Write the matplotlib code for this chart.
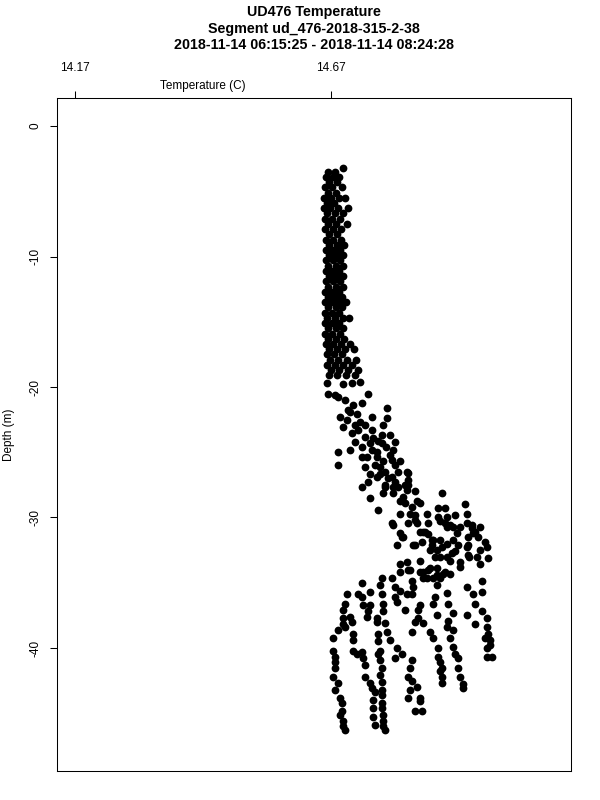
import numpy as np
import matplotlib
matplotlib.use('Agg')
from matplotlib import pyplot as plt

plt.rcParams['font.family'] = ['Liberation Sans', 'DejaVu Sans']

title_lines = ["UD476 Temperature",
               "Segment ud_476-2018-315-2-38",
               "2018-11-14 06:15:25 - 2018-11-14 08:24:28"]
temp_ticks = [14.17, 14.67]
temp_tick_labels = ["14.17", "14.67"]
depth_ticks = [0, -10, -20, -30, -40]
temp_lim = (14.135, 15.139)
depth_lim = (-49.43, 2.15)

# mixed layer: (depth, [temps at that depth])
surface_rows = [
    (-3.2, [14.693]),
    (-3.5, [14.664, 14.678]),
    (-3.9, [14.660, 14.674, 14.686]),
    (-4.3, [14.666, 14.682]),
    (-4.7, [14.658, 14.672, 14.691]),
    (-5.1, [14.664, 14.680]),
    (-5.5, [14.656, 14.670, 14.686, 14.697]),
    (-5.9, [14.662, 14.676]),
    (-6.3, [14.656, 14.668, 14.684, 14.703]),
    (-6.7, [14.662, 14.678, 14.693]),
    (-7.1, [14.658, 14.672, 14.688]),
    (-7.5, [14.664, 14.680, 14.701]),
    (-7.9, [14.658, 14.674, 14.690]),
    (-8.3, [14.666, 14.682]),
    (-8.7, [14.660, 14.674, 14.690]),
    (-9.1, [14.666, 14.682, 14.695]),
    (-9.5, [14.660, 14.674, 14.688]),
    (-9.9, [14.666, 14.680, 14.693]),
    (-10.3, [14.660, 14.674, 14.688]),
    (-10.7, [14.664, 14.680, 14.693]),
    (-11.1, [14.660, 14.672, 14.686]),
    (-11.5, [14.666, 14.680, 14.693]),
    (-11.9, [14.660, 14.674, 14.688]),
    (-12.3, [14.664, 14.680, 14.693]),
    (-12.7, [14.658, 14.672, 14.686]),
    (-13.1, [14.664, 14.678, 14.691]),
    (-13.5, [14.658, 14.672, 14.686, 14.699]),
    (-13.9, [14.664, 14.680, 14.691]),
    (-14.3, [14.658, 14.672, 14.686]),
    (-14.7, [14.662, 14.678, 14.693, 14.705]),
    (-15.1, [14.658, 14.672, 14.686]),
    (-15.5, [14.664, 14.680, 14.693]),
    (-15.9, [14.658, 14.672, 14.688]),
    (-16.3, [14.664, 14.680, 14.695]),
    (-16.7, [14.660, 14.674, 14.690, 14.707]),
    (-17.1, [14.666, 14.682, 14.697, 14.715]),
    (-17.5, [14.662, 14.676, 14.691]),
    (-17.9, [14.668, 14.684, 14.701, 14.719]),
    (-18.3, [14.662, 14.678, 14.693, 14.711]),
    (-18.7, [14.670, 14.686, 14.703, 14.723]),
    (-19.1, [14.666, 14.682, 14.699, 14.717]),
]

# thermocline, (depth, temp)
thermo_pts = [
    (-19.7, 14.662), (-20.5, 14.664), (-20.8, 14.684), (-19.8, 14.693),
    (-19.7, 14.711), (-19.6, 14.727), (-20.5, 14.742), (-21.2, 14.731),
    (-21.4, 14.713), (-22.3, 14.688), (-21.9, 14.707), (-22.3, 14.750),
    (-21.6, 14.779), (-22.4, 14.779), (-22.9, 14.772), (-23.1, 14.693),
    (-23.5, 14.711), (-22.9, 14.736), (-23.3, 14.750), (-23.9, 14.752),
    (-23.7, 14.770), (-23.7, 14.785), (-24.2, 14.795), (-25.0, 14.684),
    (-24.8, 14.707), (-24.2, 14.717), (-24.6, 14.731), (-25.4, 14.740),
    (-25.0, 14.760), (-24.3, 14.770), (-24.8, 14.791), (-26.0, 14.684),
    (-25.4, 14.731), (-26.1, 14.736), (-26.0, 14.756), (-25.7, 14.772),
    (-25.6, 14.789), (-25.7, 14.805), (-27.7, 14.731), (-27.3, 14.742),
    (-26.9, 14.760), (-27.7, 14.775), (-26.9, 14.789), (-26.5, 14.801),
    (-26.5, 14.818), (-27.1, 14.820), (-28.5, 14.746), (-29.4, 14.762),
    (-28.1, 14.772), (-28.1, 14.791), (-28.7, 14.805), (-27.9, 14.818),
    (-28.0, 14.834), (-28.7, 14.838), (-28.1, 14.887), (-29.3, 14.879),
    (-29.3, 14.893), (-29.0, 14.932), (-30.4, 14.789), (-29.7, 14.805),
    (-30.4, 14.820), (-29.8, 14.834), (-30.4, 14.838), (-29.7, 14.857),
    (-30.4, 14.859), (-30.0, 14.879), (-30.0, 14.897), (-29.8, 14.912),
    (-29.7, 14.936), (-30.7, 14.897), (-30.7, 14.908), (-30.7, 14.922),
    (-30.8, 14.945), (-30.7, 14.961), (-32.1, 14.799), (-31.2, 14.805),
    (-31.5, 14.809), (-32.1, 14.830), (-33.3, 14.844), (-31.1, 14.854),
    (-31.7, 14.867), (-32.5, 14.877), (-31.7, 14.883), (-32.0, 14.897),
    (-31.7, 14.908), (-32.7, 14.906), (-33.0, 14.897), (-31.5, 14.938),
    (-32.1, 14.938), (-31.2, 14.947), (-31.5, 14.957), (-31.9, 14.971),
    (-32.3, 14.975), (-32.5, 14.961), (-33.0, 14.955), (-32.9, 14.938),
    (-33.6, 14.961), (-33.4, 14.922), (-33.4, 14.818), (-33.6, 14.805),
    (-34.0, 14.820), (-34.2, 14.844), (-34.0, 14.859), (-33.9, 14.877),
    (-34.3, 14.889), (-34.6, 14.857),
    (-26.7, 14.746), (-26.7, 14.766), (-26.6, 14.820), (-27.5, 14.820),
    (-27.5, 14.775), (-27.7, 14.791), (-28.4, 14.811), (-28.9, 14.815),
    (-29.2, 14.828), (-29.7, 14.824), (-30.2, 14.834), (-28.9, 14.844),
    (-30.6, 14.791), (-31.5, 14.811), (-32.1, 14.834), (-31.1, 14.850),
    (-31.3, 14.859), (-31.7, 14.869), (-32.1, 14.867), (-32.3, 14.887),
    (-33.0, 14.883), (-33.3, 14.902), (-32.6, 14.912), (-32.1, 14.918),
    (-32.3, 14.936), (-31.1, 14.951), (-33.0, 14.940), (-33.1, 14.977),
    (-33.8, 14.922), (-33.9, 14.863), (-34.0, 14.824), (-34.6, 14.850),
    (-34.4, 14.877), (-34.3, 14.902), (-30.3, 14.883), (-30.4, 14.893),
    (-30.6, 14.902), (-31.2, 14.916), (-30.4, 14.936), (-30.6, 14.945),
    (-31.9, 14.848), (-32.5, 14.863), (-33.0, 14.873), (-31.1, 14.844),
    (-20.6, 14.678), (-21.0, 14.697), (-21.8, 14.703), (-22.1, 14.721),
    (-22.7, 14.727), (-23.3, 14.723), (-23.8, 14.736), (-24.3, 14.746),
    (-24.8, 14.750), (-25.4, 14.760), (-26.1, 14.766), (-26.5, 14.775),
    (-27.0, 14.781), (-27.3, 14.795), (-27.7, 14.801), (-27.5, 14.815),
    (-22.9, 14.717), (-22.5, 14.701), (-24.1, 14.762), (-24.6, 14.777),
    (-25.2, 14.785), (-26.0, 14.795),
]

# yo-yo profiles below the thermocline, (depth, temp)
deep_pts = [
    (-34.6, 14.770), (-34.6, 14.789), (-34.2, 14.805), (-34.2, 14.850),
    (-34.6, 14.869), (-34.6, 14.883), (-34.2, 14.893), (-35.2, 14.877),
    (-34.9, 14.965), (-35.0, 14.731), (-35.2, 14.766), (-35.3, 14.795),
    (-34.9, 14.828), (-35.3, 14.830), (-35.6, 14.805), (-35.8, 14.897),
    (-35.3, 14.936), (-35.9, 14.947), (-35.7, 14.965), (-35.9, 14.701),
    (-35.9, 14.723), (-36.1, 14.731), (-35.7, 14.746), (-35.9, 14.770),
    (-36.1, 14.795), (-35.9, 14.818), (-35.9, 14.828), (-36.1, 14.873),
    (-36.6, 14.899), (-36.6, 14.697), (-36.7, 14.732), (-36.7, 14.746),
    (-36.6, 14.772), (-36.5, 14.799), (-36.7, 14.844), (-36.6, 14.869),
    (-36.6, 14.951), (-37.1, 14.693), (-37.2, 14.742), (-37.2, 14.772),
    (-37.1, 14.815), (-37.1, 14.840), (-37.5, 14.877), (-37.3, 14.908),
    (-37.5, 14.936), (-37.2, 14.965), (-37.7, 14.693), (-37.6, 14.707),
    (-37.6, 14.740), (-37.7, 14.760), (-37.7, 14.840), (-37.9, 14.899),
    (-37.7, 14.975), (-38.2, 14.693), (-38.0, 14.711), (-38.0, 14.760),
    (-38.1, 14.775), (-38.0, 14.834), (-38.1, 14.850), (-38.4, 14.897),
    (-38.2, 14.951), (-38.4, 14.975), (-38.6, 14.684), (-38.4, 14.697),
    (-38.9, 14.713), (-38.9, 14.762), (-38.8, 14.779), (-38.8, 14.828),
    (-38.8, 14.863), (-38.6, 14.908), (-38.9, 14.977), (-39.2, 14.674),
    (-39.4, 14.713), (-39.5, 14.762), (-39.4, 14.785), (-39.2, 14.869),
    (-39.2, 14.902), (-39.2, 14.971), (-39.4, 14.980), (-40.2, 14.674),
    (-40.2, 14.713), (-40.3, 14.731), (-40.2, 14.766), (-40.0, 14.799),
    (-40.0, 14.879), (-39.9, 14.908), (-40.0, 14.975), (-39.8, 14.980),
    (-40.7, 14.678), (-40.5, 14.721), (-40.5, 14.762), (-40.8, 14.795),
    (-40.5, 14.809), (-40.7, 14.879), (-40.5, 14.912), (-40.7, 14.975),
    (-40.7, 14.984), (-41.1, 14.678), (-40.8, 14.732), (-40.9, 14.766),
    (-40.9, 14.828), (-41.1, 14.883), (-40.8, 14.918), (-41.5, 14.678),
    (-41.3, 14.736), (-41.5, 14.770), (-41.5, 14.824), (-41.5, 14.887),
    (-41.5, 14.918), (-42.2, 14.674), (-42.2, 14.736), (-42.1, 14.766),
    (-42.2, 14.820), (-41.8, 14.883), (-42.2, 14.922), (-42.7, 14.684),
    (-42.7, 14.746), (-42.6, 14.770), (-42.5, 14.828), (-42.2, 14.887),
    (-42.8, 14.928), (-43.2, 14.678), (-43.1, 14.750), (-43.2, 14.770),
    (-43.2, 14.824), (-43.0, 14.838), (-42.7, 14.887), (-43.1, 14.928),
    (-43.8, 14.688), (-43.4, 14.756), (-43.6, 14.770), (-43.8, 14.820),
    (-43.8, 14.844), (-44.2, 14.691), (-44.0, 14.752), (-44.2, 14.770),
    (-44.1, 14.844), (-44.8, 14.691), (-44.6, 14.752), (-44.6, 14.770),
    (-44.8, 14.834), (-44.8, 14.848), (-45.1, 14.688), (-45.3, 14.752),
    (-45.1, 14.772), (-45.6, 14.693), (-45.9, 14.756), (-45.6, 14.772),
    (-46.0, 14.693), (-46.0, 14.772), (-46.3, 14.697), (-46.3, 14.775),
]

# flatten everything into two arrays
depths = []
temps = []
for d, ts in surface_rows:
    for t in ts:
        depths.append(d)
        temps.append(t)
for d, t in thermo_pts + deep_pts:
    depths.append(d)
    temps.append(t)
depths = np.array(depths)
temps = np.array(temps)

fig = plt.figure(figsize=(6, 8), dpi=100)
ax = fig.add_axes([57/600, 1-771/800, (571-57)/600, (771-98)/800])

ax.plot(temps, depths, 'o', color='black', ms=5.6, mew=0)

ax.set_xlim(*temp_lim)
ax.set_ylim(*depth_lim)

ax.xaxis.tick_top()
ax.set_xticks(temp_ticks)
ax.set_xticklabels(temp_tick_labels)
ax.set_yticks(depth_ticks)
ax.set_yticklabels([str(v) for v in depth_ticks])
ax.tick_params(axis='x', length=5, width=0.75, pad=12, labelsize=8.5)
ax.tick_params(axis='y', length=5, width=0.75, pad=6, labelsize=8.5,
               labelrotation=90)
for lab in ax.get_yticklabels():
    lab.set_va('center')
for sp in ax.spines.values():
    sp.set_linewidth(0.75)

ax.annotate("Temperature (C)", xy=(np.mean(temp_ticks), 1),
            xycoords=('data', 'axes fraction'), xytext=(0, 8.5),
            textcoords='offset points', ha='center', va='center', fontsize=8.5)
fig.text(9/600, 1-434.5/800, "Depth (m)", rotation=90, ha='center',
         va='center', fontsize=8.5)

ys = [12, 28.5, 45]
for line, y in zip(title_lines, ys):
    fig.text(314/600, 1-y/800, line, ha='center', va='center',
             fontsize=10.3, fontweight='bold')

fig.savefig('out.png', dpi=100)
